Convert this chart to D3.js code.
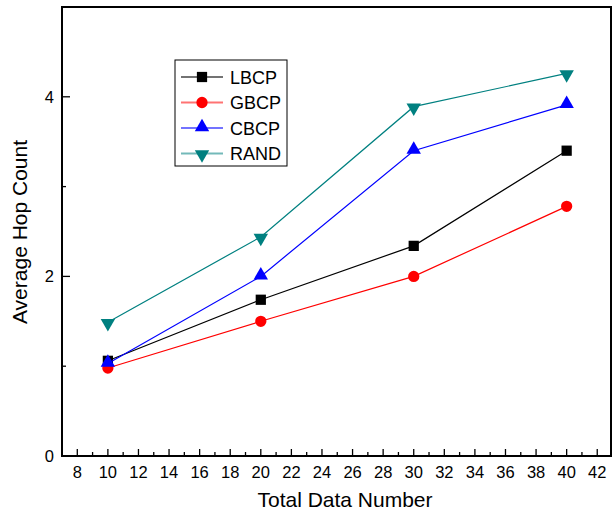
<!DOCTYPE html>
<html lang="en">
  <head>
    <meta charset="utf-8">
    <title>Average Hop Count vs Total Data Number</title>
    <script src="https://cdnjs.cloudflare.com/ajax/libs/d3/7.8.5/d3.min.js"></script>
    <style>
      body { margin: 0; background: #fff; }
      text { font-family: "Liberation Sans", Arial, sans-serif; fill: #000; }
    </style>
  </head>
  <body>
    <script>
      // data
      const dataNumbers = [10, 20, 30, 40];
      const lbcp = [1.06, 1.74, 2.34, 3.40];
      const gbcp = [0.98, 1.50, 2.00, 2.78];
      const cbcp = [1.03, 2.00, 3.40, 3.91];
      const rand = [1.49, 2.44, 3.89, 4.26];
      const seriesNames = ['LBCP', 'GBCP', 'CBCP', 'RAND'];
      const xTicks = d3.range(8, 43, 2);
      const yTicks = [0, 2, 4];

      const series = [
        { name: seriesNames[0], values: lbcp, color: '#000000', symbol: d3.symbolSquare, size: 105 },
        { name: seriesNames[1], values: gbcp, color: '#ff0000', symbol: d3.symbolCircle, size: 100 },
        { name: seriesNames[2], values: cbcp, color: '#0000ff', symbol: d3.symbolTriangle, size: 90, dy: -1 },
        { name: seriesNames[3], values: rand, color: '#008080', symbol: d3.symbolTriangle, size: 90, flip: true, dy: 1 }
      ];

      const width = 613, height = 512;
      const margin = { top: 7, right: 2, bottom: 56, left: 62 };
      const w = width - margin.left - margin.right,
          h = height - margin.top - margin.bottom;

      const x = d3.scaleLinear().domain([7, 42.9]).range([0, w]);
      const y = d3.scaleLinear().domain([0, 5]).range([h, 0]);

      const svg = d3.select('body').append('svg')
          .attr('width', width)
          .attr('height', height);

      const g = svg.append('g')
          .attr('transform', `translate(${margin.left},${margin.top})`);

      // frame
      g.append('rect')
          .attr('width', w).attr('height', h)
          .attr('fill', 'none')
          .attr('stroke', '#000')
          .attr('stroke-width', 2);

      // x axis ticks (inward), major every 2, minor between
      g.selectAll('.xminor')
          .data(d3.range(9, 43, 2))
        .enter().append('line')
          .attr('x1', d => x(d)).attr('x2', d => x(d))
          .attr('y1', h).attr('y2', h - 4)
          .attr('stroke', '#000').attr('stroke-width', 1.3);

      g.selectAll('.xmajor')
          .data(xTicks)
        .enter().append('line')
          .attr('x1', d => x(d)).attr('x2', d => x(d))
          .attr('y1', h).attr('y2', h - 7)
          .attr('stroke', '#000').attr('stroke-width', 1.3);

      g.selectAll('.xlabel')
          .data(xTicks)
        .enter().append('text')
          .attr('x', d => x(d))
          .attr('y', h + 22)
          .attr('text-anchor', 'middle')
          .style('font-size', '16.5px')
          .text(d => d);

      // y axis ticks
      g.selectAll('.yminor')
          .data([1, 3])
        .enter().append('line')
          .attr('x1', 0).attr('x2', 4)
          .attr('y1', d => y(d)).attr('y2', d => y(d))
          .attr('stroke', '#000').attr('stroke-width', 1.3);

      g.selectAll('.ymajor')
          .data(yTicks)
        .enter().append('line')
          .attr('x1', 0).attr('x2', 8)
          .attr('y1', d => y(d)).attr('y2', d => y(d))
          .attr('stroke', '#000').attr('stroke-width', 1.3);

      g.selectAll('.ylabel')
          .data(yTicks)
        .enter().append('text')
          .attr('x', -8)
          .attr('y', d => y(d) + 6)
          .attr('text-anchor', 'end')
          .style('font-size', '16.5px')
          .text(d => d);

      // axis titles
      svg.append('text')
          .attr('x', 345).attr('y', 507)
          .attr('text-anchor', 'middle')
          .style('font-size', '21px')
          .text('Total Data Number');

      svg.append('text')
          .attr('transform', 'translate(27,232) rotate(-90)')
          .attr('text-anchor', 'middle')
          .style('font-size', '21px')
          .text('Average Hop Count');

      const line = d3.line()
          .x((d, i) => x(dataNumbers[i]))
          .y(d => y(d));

      const sym = s => d3.symbol().type(s.symbol).size(s.size)();

      series.forEach(s => {
        g.append('path')
            .datum(s.values)
            .attr('d', line)
            .attr('fill', 'none')
            .attr('stroke', s.color)
            .attr('stroke-width', 1.2);

        g.selectAll(null)
            .data(s.values)
          .enter().append('path')
            .attr('d', sym(s))
            .attr('transform', (d, i) =>
              `translate(${x(dataNumbers[i])},${y(d) + (s.dy || 0)})` + (s.flip ? ' rotate(180)' : ''))
            .attr('fill', s.color);
      });

      // legend
      const legend = svg.append('g').attr('transform', 'translate(175,60)');
      legend.append('rect')
          .attr('width', 112).attr('height', 106)
          .attr('fill', '#fff')
          .attr('stroke', '#000')
          .attr('stroke-width', 1);

      const rows = legend.selectAll('.row')
          .data(series)
        .enter().append('g')
          .attr('transform', (d, i) => `translate(0,${17 + i * 25.5})`);

      rows.append('line')
          .attr('x1', 6).attr('x2', 48)
          .attr('stroke', d => d.color)
          .attr('stroke-opacity', 0.55)
          .attr('stroke-width', 2);

      rows.append('path')
          .attr('d', d => sym(d))
          .attr('transform', d => `translate(27,${d.dy || 0})` + (d.flip ? ' rotate(180)' : ''))
          .attr('fill', d => d.color);

      rows.append('text')
          .attr('x', 55).attr('y', 6.5)
          .style('font-size', '18px')
          .text(d => d.name);
    </script>
  </body>
</html>
